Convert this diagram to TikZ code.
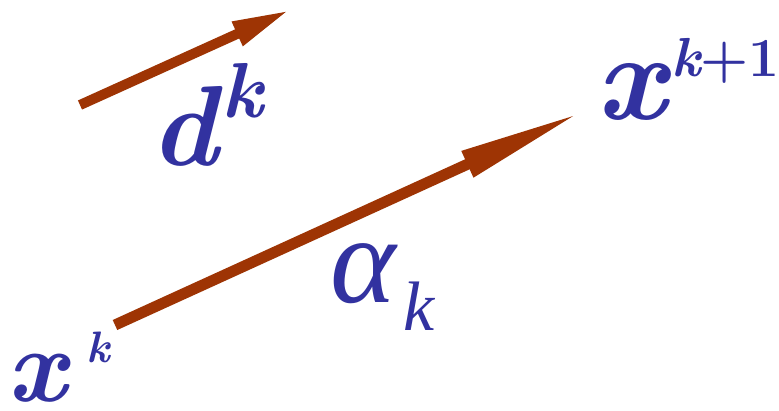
\documentclass[tikz,border=0pt]{standalone}
\usepackage{fontspec}
\newfontfamily\greekserif{Liberation Serif}
\usetikzlibrary{arrows.meta}
\definecolor{vecbrown}{RGB}{158,52,4}
\definecolor{lblblue}{RGB}{50,50,160}
\newcommand\fsz[1]{\fontsize{#1}{#1}\selectfont}
\tikzset{
  lbl/.style={inner sep=0pt, outer sep=0pt, anchor=base west, text=lblblue}
}
\begin{document}
\begin{tikzpicture}[x=1pt,y=-1pt]
\useasboundingbox[fill=white] (0,0) rectangle (779,410);
% arrows
\coordinate (d0) at (80,105);
\coordinate (d1) at (290,10);
\coordinate (a0) at (115,325);
\coordinate (a1) at (582,112);
\draw[draw=vecbrown, line width=10pt, -{Triangle[length=58pt,width=24pt]}] (d0) -- (d1);
\draw[draw=vecbrown, line width=11pt, -{Triangle[length=126pt,width=26pt]}] (a0) -- (a1);
% labels
\node[lbl] (dk) at (150,165) {\fsz{114}\bfseries\itshape d\hspace{4pt}\raisebox{48pt}{\fsz{78}k}};
\node[lbl] (ak) at (330,302) {\greekserif\itshape\fsz{125}α\hspace{8pt}\raisebox{-28pt}{\fsz{70}k}};
\node[lbl] (xk) at (8,401) {\fsz{105}\bfseries\itshape x\hspace{20pt}\raisebox{39pt}{\fsz{44}k}};
\node[lbl] (xk1) at (596,119) {\fsz{124}\bfseries\itshape x\hspace{6pt}\raisebox{43pt}{\fsz{55}k\upshape+1}};
\end{tikzpicture}
\end{document}
